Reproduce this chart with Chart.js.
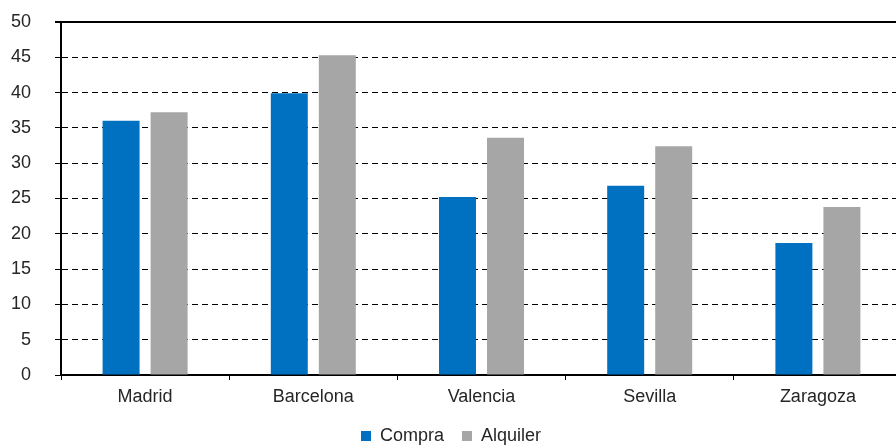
<!DOCTYPE html>
<html>
<head>
<meta charset="utf-8">
<script src="https://cdn.jsdelivr.net/npm/chart.js@4.4.1/dist/chart.umd.min.js"></script>
<style>
  html, body { margin: 0; padding: 0; background: #fff; overflow: hidden; }
  #wrap { width: 910px; height: 445px; }
</style>
</head>
<body>
<div id="wrap"><canvas id="myChart" width="910" height="445"></canvas></div>
<script>
const cities = ['Madrid', 'Barcelona', 'Valencia', 'Sevilla', 'Zaragoza'];
const compra = [36.0, 39.9, 25.2, 26.8, 18.7];
const alquiler = [37.2, 45.3, 33.6, 32.4, 23.8];
const yTicks = [0, 5, 10, 15, 20, 25, 30, 35, 40, 45, 50];

const colors = {
    compra: '#0070C0',
    alquiler: '#A6A6A6',
    text: '#262626',
    axis: '#000000'
};

const font = { family: 'Liberation Sans, Arial, sans-serif', size: 18 };

// keep the legend strip a fixed height so the items sit low under the axis
const fixedLegend = {
    id: 'fixedLegend',
    beforeLayout(chart) {
        const legend = chart.legend;
        if (!legend || legend._fixed) return;
        const fit = legend.fit;
        legend.fit = function () {
            fit.call(this);
            this.height = 36;
        };
        legend._fixed = true;
    }
};

const ctx = document.getElementById('myChart').getContext('2d');
const myChart = new Chart(ctx, {
    type: 'bar',
    data: {
        labels: cities,
        datasets: [
            { label: 'Compra', data: compra, backgroundColor: colors.compra },
            { label: 'Alquiler', data: alquiler, backgroundColor: colors.alquiler }
        ]
    },
    plugins: [fixedLegend],
    options: {
        responsive: false,
        animation: false,
        categoryPercentage: 0.571,
        barPercentage: 0.77,
        layout: { padding: { left: 0, right: 8, top: 22, bottom: 0 } },
        scales: {
            x: {
                afterFit: scale => { scale.height = 34; },
                grid: {
                    drawOnChartArea: false,
                    offset: true,
                    color: colors.axis,
                    tickLength: 5,
                    tickWidth: 1
                },
                border: { color: colors.axis, width: 2 },
                ticks: { color: colors.text, font: font, padding: 6 }
            },
            y: {
                min: 0,
                max: 50,
                afterFit: scale => {
                    scale.width = 61;
                    scale.paddingTop = 0;
                    scale.paddingBottom = 0;
                },
                afterBuildTicks: scale => { scale.ticks = yTicks.map(v => ({ value: v })); },
                grid: {
                    color: colors.axis,
                    lineWidth: c => (c.tick && c.tick.value === 50 ? 2 : 1),
                    tickLength: 6
                },
                border: {
                    color: colors.axis,
                    width: 2,
                    dash: c => (c.tick && c.tick.value === 50 ? [] : [6, 4])
                },
                ticks: { color: colors.text, font: font, padding: 24 }
            }
        },
        plugins: {
            legend: {
                position: 'bottom',
                labels: {
                    color: colors.text,
                    font: font,
                    boxWidth: 10,
                    boxHeight: 10,
                    padding: 18
                }
            },
            tooltip: { enabled: false }
        }
    }
});
</script>
</body>
</html>
